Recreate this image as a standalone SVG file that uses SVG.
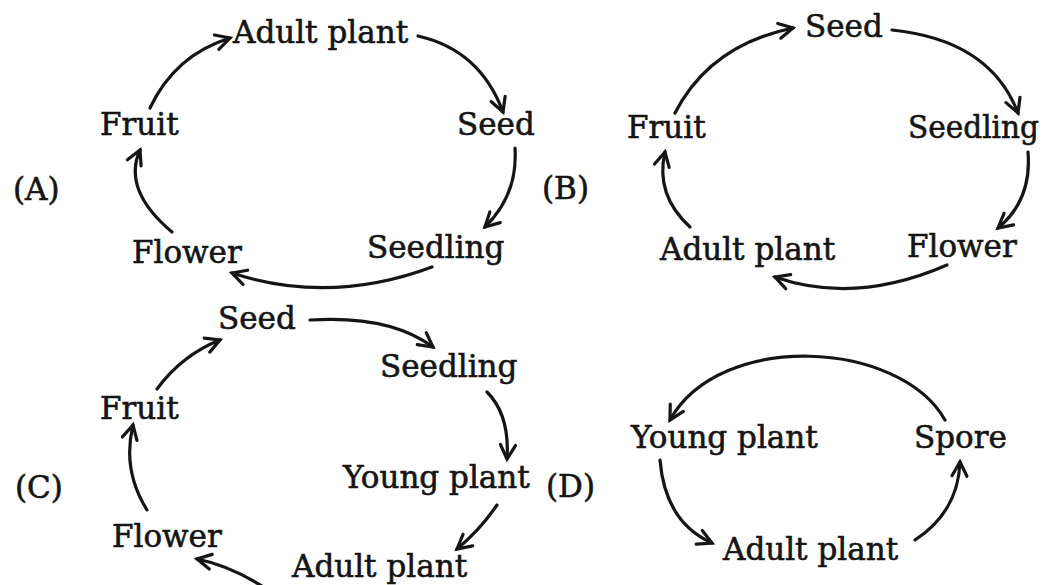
<svg xmlns="http://www.w3.org/2000/svg" width="1044" height="585" viewBox="0 0 1044 585">
  <style>
    text { font-family: "DejaVu Serif", "Liberation Serif", serif; font-size: 31px; fill: #151515; stroke: #151515; stroke-width: 0.6px; }
    .c { fill: none; stroke: #151515; stroke-width: 3.2; stroke-linecap: round; marker-end: url(#ah); }
  </style>
  <defs>
    <marker id="ah" markerWidth="22" markerHeight="22" refX="17" refY="11" orient="auto" markerUnits="userSpaceOnUse" viewBox="0 0 22 22">
      <path d="M3,3.5 L17,11 L3,18.5" fill="none" stroke="#151515" stroke-width="3.2" stroke-linecap="round" stroke-linejoin="miter"/>
    </marker>
  </defs>
  <rect width="1044" height="585" fill="#ffffff"/>

  <g id="labels">
    <text x="13" y="200">(A)</text>
    <text x="542" y="199">(B)</text>
    <text x="15" y="498">(C)</text>
    <text x="546" y="497">(D)</text>
  </g>

  <!-- Cycle A -->
  <g id="a-adult"><text x="233" y="43">Adult plant</text></g>
  <g id="a-seed"><text x="457" y="135">Seed</text></g>
  <g id="a-seedling"><text x="367" y="258">Seedling</text></g>
  <g id="a-flower"><text x="132" y="263">Flower</text></g>
  <g id="a-fruit"><text x="100" y="135">Fruit</text></g>

  <!-- Cycle B -->
  <g id="b-seed"><text x="805" y="37">Seed</text></g>
  <g id="b-seedling"><text x="908" y="138" textLength="131" lengthAdjust="spacingAndGlyphs">Seedling</text></g>
  <g id="b-flower"><text x="907" y="257">Flower</text></g>
  <g id="b-adult"><text x="660" y="260">Adult plant</text></g>
  <g id="b-fruit"><text x="627" y="138">Fruit</text></g>

  <!-- Cycle C -->
  <g id="c-seed"><text x="218" y="329">Seed</text></g>
  <g id="c-seedling"><text x="380" y="377">Seedling</text></g>
  <g id="c-young"><text x="343" y="488">Young plant</text></g>
  <g id="c-adult"><text x="292" y="577">Adult plant</text></g>
  <g id="c-flower"><text x="112" y="547">Flower</text></g>
  <g id="c-fruit"><text x="100" y="419">Fruit</text></g>

  <!-- Cycle D -->
  <g id="d-young"><text x="631" y="448">Young plant</text></g>
  <g id="d-spore"><text x="914" y="448">Spore</text></g>
  <g id="d-adult"><text x="723" y="560">Adult plant</text></g>

  <g id="connectors">
    <!-- A -->
    <path class="c" d="M150,108 Q175,55 230,38"/>
    <path class="c" d="M418,36 Q480,50 503,112"/>
    <path class="c" d="M515,148 Q518,195 485,227"/>
    <path class="c" d="M432,267 Q330,305 232,273"/>
    <path class="c" d="M172,232 Q122,190 140,150"/>
    <!-- B -->
    <path class="c" d="M675,113 Q710,45 793,28"/>
    <path class="c" d="M892,30 Q990,40 1018,113"/>
    <path class="c" d="M1028,152 Q1032,200 998,228"/>
    <path class="c" d="M947,265 Q855,305 775,277"/>
    <path class="c" d="M690,227 Q655,195 665,152"/>
    <!-- C -->
    <path class="c" d="M157,389 Q182,355 220,340"/>
    <path class="c" d="M310,320 Q390,315 433,347"/>
    <path class="c" d="M487,392 Q510,415 507,459"/>
    <path class="c" d="M497,505 Q480,530 457,549"/>
    <path class="c" d="M268,590 Q232,566 197,559"/>
    <path class="c" d="M147,510 Q122,470 133,425"/>
    <!-- D -->
    <path class="c" d="M945,420 C900,340 720,330 670,420"/>
    <path class="c" d="M660,460 Q665,522 712,543"/>
    <path class="c" d="M915,540 Q958,512 960,462"/>
  </g>
</svg>
